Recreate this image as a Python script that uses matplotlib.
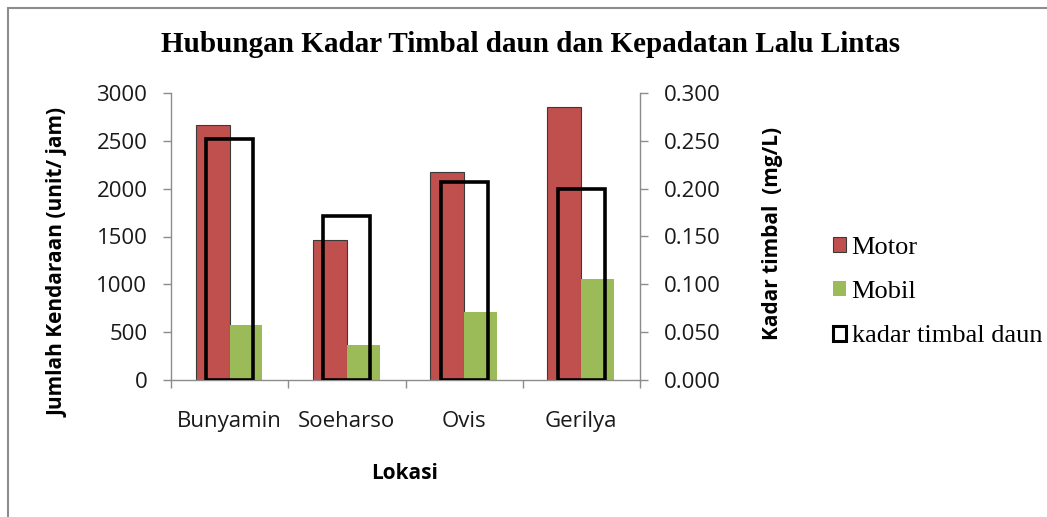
import matplotlib
matplotlib.use("Agg")
import matplotlib.pyplot as plt
from matplotlib.patches import Rectangle, Patch
from matplotlib.ticker import FixedLocator, FuncFormatter
import numpy as np

lokasi = ["Bunyamin", "Soeharso", "Ovis", "Gerilya"]
motor = [2670, 1460, 2170, 2850]
mobil = [580, 370, 710, 1060]
kadar_timbal = [0.252, 0.171, 0.207, 0.200]

c_motor = "#C0504D"
c_mobil = "#9BBB59"
sans = ["Open Sans", "DejaVu Sans"]
serif = ["Liberation Serif", "DejaVu Serif"]

fig = plt.figure(figsize=(10.47, 5.17), dpi=100)
ax = fig.add_axes([171/1047, 1-380/517, (640-171)/1047, (380-93)/517])
ax2 = ax.twinx()

x = np.arange(len(lokasi))
ax.bar(x, motor, width=-0.29, align="edge", color=c_motor, edgecolor="#3a3a3a", linewidth=0.8, zorder=2)
ax.bar(x, mobil, width=0.28, align="edge", color=c_mobil, edgecolor="none", zorder=2)
ax2.bar(x, kadar_timbal, width=0.40, align="center", facecolor="none", edgecolor="black", linewidth=2.6, zorder=3)

ax.set_xlim(-0.5, len(lokasi) - 0.5)
ax.set_ylim(0, 3000)
ax2.set_ylim(0, 0.3)
ax.set_yticks(np.arange(0, 3001, 500))
ax2.set_yticks(np.arange(0, 0.3001, 0.05))
ax2.yaxis.set_major_formatter(FuncFormatter(lambda v, p: f"{v:.3f}"))

ax.set_xticks(x)
ax.set_xticklabels(lokasi)
ax.xaxis.set_minor_locator(FixedLocator(np.arange(-0.5, len(lokasi), 1.0)))
ax.tick_params(axis="x", which="major", length=0, pad=22)
ax.tick_params(axis="x", which="minor", length=6, width=1, color="#8c8c8c", direction="out")
ax.tick_params(axis="y", length=6, width=1, color="#8c8c8c", pad=11)
ax2.tick_params(axis="y", length=6, width=1, color="#8c8c8c", pad=11)

for a in (ax, ax2):
    a.spines["top"].set_visible(False)
    for s in ("left", "right", "bottom"):
        a.spines[s].set_color("#8c8c8c")
        a.spines[s].set_linewidth(1)
ax.spines["right"].set_visible(False)
ax2.spines["left"].set_visible(False)
ax2.spines["bottom"].set_visible(False)

for lbl in ax.get_xticklabels() + ax.get_yticklabels() + ax2.get_yticklabels():
    lbl.set_fontfamily(sans)
    lbl.set_fontsize(16)
    lbl.set_color("#1a1a1a")

ax.set_xlabel("Lokasi", fontfamily=sans, fontsize=15, fontweight="bold")
ax.xaxis.set_label_coords(0.499, -0.29)
ax.set_ylabel("Jumlah Kendaraan (unit/ jam)", fontfamily=sans, fontsize=15, fontweight="bold")
ax.yaxis.set_label_coords(-0.2175, 0.41)
ax2.set_ylabel("Kadar timbal  (mg/L)", fontfamily=sans, fontsize=15, fontweight="bold")
ax2.yaxis.set_label_coords(1.26, 0.509)

fig.text(531/1047, 1-45/517, "Hubungan Kadar Timbal daun dan Kepadatan Lalu Lintas",
         ha="center", va="center", fontfamily=serif, fontsize=21, fontweight="bold")

handles = [
    Patch(facecolor=c_motor, edgecolor="#3a3a3a", linewidth=0.8, label="Motor"),
    Patch(facecolor=c_mobil, edgecolor="none", label="Mobil"),
    Patch(facecolor="white", edgecolor="black", linewidth=2.2, label="kadar timbal daun"),
]
fig.legend(handles=handles, loc="center left", bbox_to_anchor=(820/1047, 1-292/517),
           frameon=False, prop={"family": serif, "size": 19}, handlelength=0.5,
           handleheight=0.5, handletextpad=0.2, labelspacing=0.85, borderpad=0)

fig.add_artist(Rectangle((8/1047, -0.1), 1.2, 1-8/517+0.1, transform=fig.transFigure,
                         facecolor="none", edgecolor="#8c8c8c", linewidth=1.5))

fig.savefig("out.png", dpi=100)
